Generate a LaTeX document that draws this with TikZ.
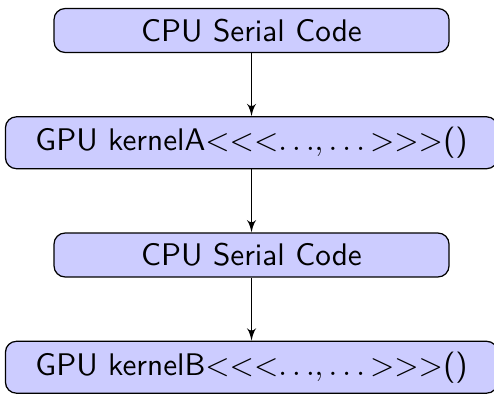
\documentclass[tikz,border=0pt]{standalone}
\usepackage{tikz}
\usetikzlibrary{arrows,shapes,positioning}

\begin{document}
\begin{tikzpicture}[->,>=latex',shorten >=0pt,auto,node distance=20.2pt,
                    font=\sffamily]
\tikzstyle{cpu_code}=[rectangle,rounded corners=3.5pt,draw=black,fill=blue!20,minimum width=126.4pt,minimum height=13.6pt]
\tikzstyle{gpu_kernel}=[rectangle,rounded corners=3.5pt,draw=black,fill=blue!20,inner xsep=9.6pt,inner ysep=3.3pt]

\node[cpu_code] (serial1) at (0,0) {CPU Serial Code};
\node[gpu_kernel] (kernelA) [below=of serial1] {GPU kernelA${<}{<}{<}\mathord{\ldots}\mathpunct{,}\ldots{>}{>}{>}$()};
\node[cpu_code] (serial2) [below=of kernelA] {CPU Serial Code};
\node[gpu_kernel] (kernelB) [below=of serial2] {GPU kernelB${<}{<}{<}\mathord{\ldots}\mathpunct{,}\ldots{>}{>}{>}$()};

\draw[->] (serial1) -- (kernelA);
\draw[->] (kernelA) -- (serial2);
\draw[->] (serial2) -- (kernelB);

\pgfresetboundingbox
\useasboundingbox (-80.5pt,9.76pt) rectangle (77.6pt,0 |- kernelB.south);
\end{tikzpicture}
\end{document}
